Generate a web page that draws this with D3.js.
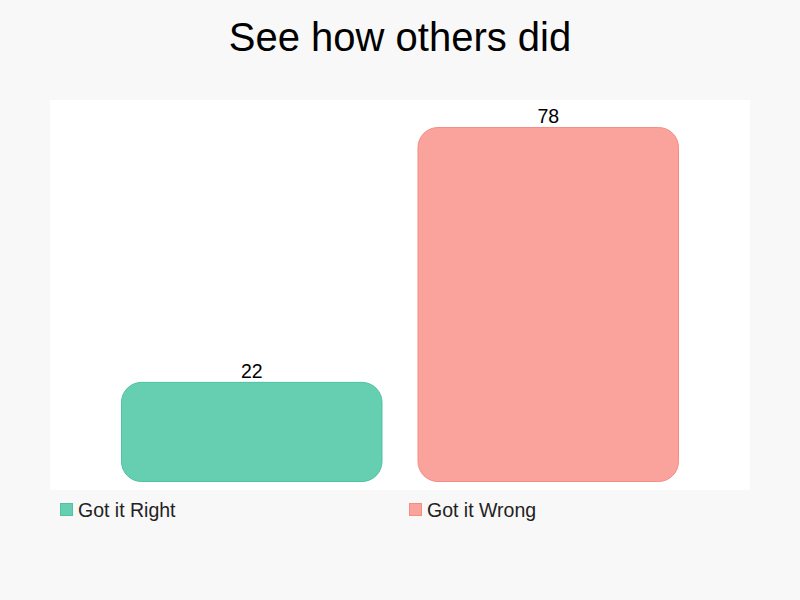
<!DOCTYPE html>
<html><head><meta charset="utf-8">
<script src="https://cdn.jsdelivr.net/npm/d3@7"></script>
<style>body{margin:0;background:#f8f8f8;}svg{display:block;font-family:"Liberation Sans",Arial,Helvetica,sans-serif;}</style>
</head><body>
<script>
const categories = ["Got it Right", "Got it Wrong"];
const values = [22, 78];
const fills = ["#66cfb2", "#f9a39c"];
const strokes = ["#4dc3a0", "#f58d85"];
const title = "See how others did";

const W = 800, H = 600;
const svg = d3.select("body").append("svg").attr("width", W).attr("height", H);
svg.append("rect").attr("width", W).attr("height", H).attr("fill", "#f8f8f8");
svg.append("rect").attr("x", 50).attr("y", 100).attr("width", 700).attr("height", 390).attr("fill", "#ffffff");

svg.append("text").attr("x", 400).attr("y", 51).attr("text-anchor", "middle")
  .attr("font-size", 40).attr("fill", "#000").text(title);

const x = d3.scaleBand().domain(categories).range([121, 679]).paddingInner(0.118).paddingOuter(0);
const y = d3.scaleLinear().domain([0, 78]).range([482, 127]);

const data = categories.map((c, i) => ({c, v: values[i], i}));
svg.selectAll("rect.bar").data(data).enter().append("rect").attr("class", "bar")
  .attr("x", d => x(d.c) + 0.5).attr("y", d => y(d.v) + 0.5)
  .attr("width", x.bandwidth() - 1).attr("height", d => y(0) - y(d.v) - 1)
  .attr("rx", 20).attr("ry", 20)
  .attr("fill", d => fills[d.i]).attr("stroke", d => strokes[d.i]).attr("stroke-width", 1);

svg.selectAll("text.lbl").data(data).enter().append("text").attr("class", "lbl")
  .attr("x", d => x(d.c) + x.bandwidth() / 2).attr("y", d => y(d.v) - 4)
  .attr("text-anchor", "middle").attr("font-size", 19.5).attr("fill", "#000").text(d => d.v);

const leg = svg.selectAll("g.leg").data(data).enter().append("g").attr("class", "leg")
  .attr("transform", (d, i) => `translate(${i === 0 ? 60 : 409},503)`);
leg.append("rect").attr("width", 12).attr("height", 12).attr("x", 0.5).attr("y", 0.5)
  .attr("fill", d => fills[d.i]).attr("stroke", d => strokes[d.i]);
leg.append("text").attr("x", 18).attr("y", 13.5).attr("font-size", 19.5).attr("fill", "#222").text(d => d.c);
</script>
</body></html>
